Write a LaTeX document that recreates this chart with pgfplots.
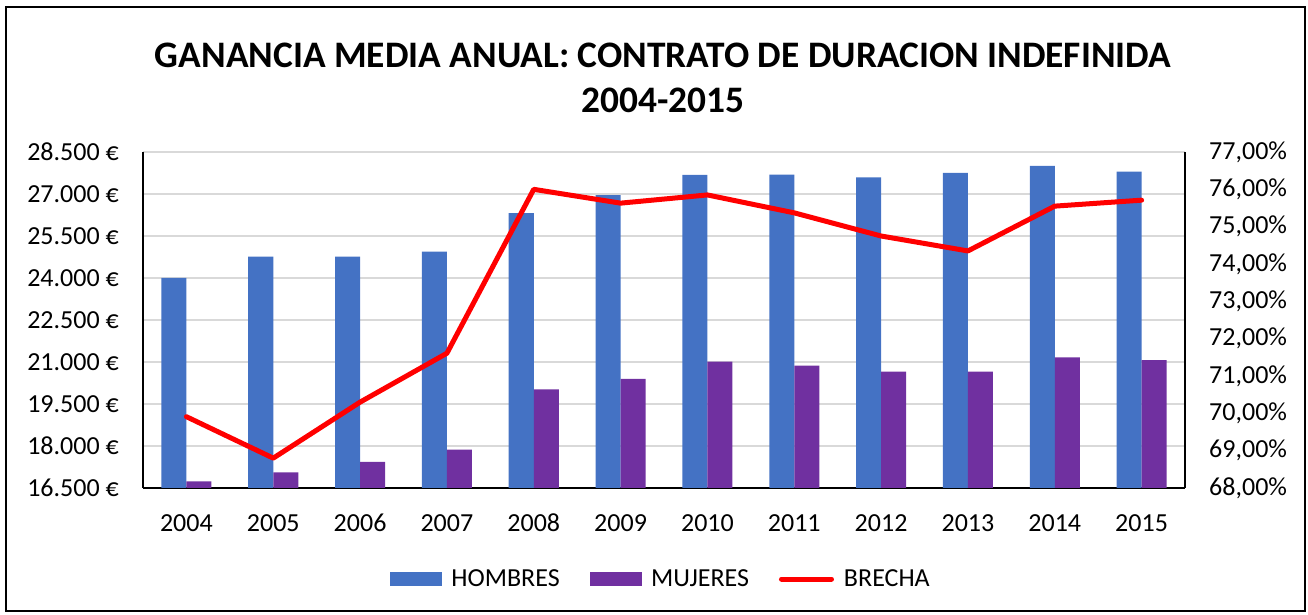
\documentclass[border=0pt]{standalone}
\usepackage{fontspec}
\setmainfont{Carlito}
\usepackage{pgfplots}
\pgfplotsset{compat=1.18}

\definecolor{hombres}{HTML}{4472C4}
\definecolor{mujeres}{HTML}{7030A0}
\definecolor{brecha}{HTML}{FF0000}
\definecolor{gridgray}{HTML}{D9D9D9}

\pgfplotstableread{
x hombres mujeres brecha
0 24000 16738 69.91
1 24762 17060 68.80
2 24760 17429 70.30
3 24940 17869 71.61
4 26321 20024 76.00
5 26964 20393 75.63
6 27679 21012 75.85
7 27690 20869 75.37
8 27595 20655 74.75
9 27750 20655 74.35
10 28000 21167 75.55
11 27798 21071 75.71
}\datos

\newcommand{\tickfont}{\fontsize{26}{31}\selectfont}

\begin{document}
\begin{tikzpicture}
\path (0,0) rectangle (1308pt,615pt);
\draw[line width=1.5pt] (6pt,4pt) rectangle (1305pt,608pt);

\node[font=\fontsize{37.4}{45}\selectfont\bfseries, align=center, anchor=base]
  at (663pt,502pt) {GANANCIA MEDIA ANUAL: CONTRATO DE DURACION INDEFINIDA\\2004-2015};

\pgfplotsset{
  base/.style={
    scale only axis,
    width=1042pt, height=336pt,
    at={(143pt,127pt)}, anchor=south west,
    xmin=-0.5, xmax=11.5,
    major tick length=0pt,
    axis line style={-, black, line width=1.5pt},
    tick label style={font=\tickfont, inner sep=0pt},
    scaled y ticks=false,
  }
}

\begin{axis}[
  base,
  ybar=0pt,
  bar width=0.288,
  axis x line*=bottom,
  axis y line*=left,
  ymin=16500, ymax=28500,
  ytick={16500,18000,...,28500},
  yticklabels={16.500 €,18.000 €,19.500 €,21.000 €,22.500 €,24.000 €,25.500 €,27.000 €,28.500 €},
  yticklabel style={anchor=east, xshift=-24pt},
  xtick={0,...,11},
  xticklabels={2004,2005,2006,2007,2008,2009,2010,2011,2012,2013,2014,2015},
  xticklabel style={anchor=base, yshift=-44pt},
  ymajorgrids,
  xmajorgrids=false,
  grid style={color=gridgray, line width=1.5pt},
]
\addplot[fill=hombres, draw=none] table[x=x, y=hombres] {\datos};
\addplot[fill=mujeres, draw=none] table[x=x, y=mujeres] {\datos};
\end{axis}

\begin{axis}[
  base,
  axis x line=none,
  axis y line*=right,
  ymin=68, ymax=77,
  ytick={68,69,...,77},
  yticklabels={{68,00\%},{69,00\%},{70,00\%},{71,00\%},{72,00\%},{73,00\%},{74,00\%},{75,00\%},{76,00\%},{77,00\%}},
  yticklabel style={anchor=west, xshift=24pt},
  legend columns=3,
  legend style={
    draw=none, fill=none, font=\tickfont,
    at={(0.497,-0.271)}, anchor=center,
    /tikz/every odd column/.append style={column sep=8pt},
    /tikz/every even column/.append style={column sep=28pt},
  },
]
\addlegendimage{legend image code/.code={\fill[hombres] (0pt,-6.5pt) rectangle (51pt,6.5pt);}}
\addlegendentry{HOMBRES}
\addlegendimage{legend image code/.code={\fill[mujeres] (0pt,-6.5pt) rectangle (51pt,6.5pt);}}
\addlegendentry{MUJERES}
\addplot[brecha, line width=5pt, line cap=round, line join=round, mark=none,
  legend image code/.code={\draw[brecha, line width=5pt, line cap=round] (0pt,0pt) -- (50pt,0pt);}]
  table[x=x, y=brecha] {\datos};
\addlegendentry{BRECHA}
\end{axis}
\end{tikzpicture}
\end{document}
